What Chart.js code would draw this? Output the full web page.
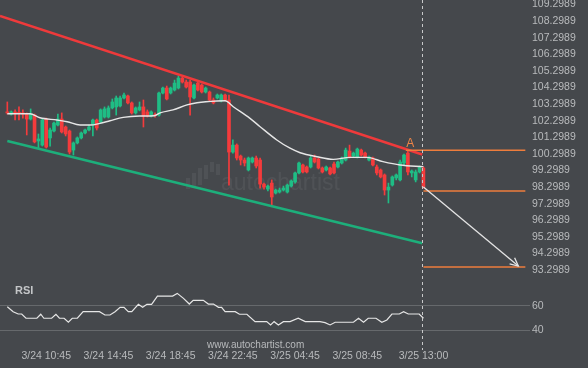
<!DOCTYPE html>
<html><head><meta charset="utf-8">
<script src="https://cdn.jsdelivr.net/npm/chart.js@4.4.1/dist/chart.umd.min.js"></script>
<style>html,body{margin:0;padding:0;background:#45484c;}canvas{display:block;}</style>
</head><body><canvas id="c" width="588" height="368"></canvas>
<script>
const timeLabels = ['3/24 10:45','3/24 14:45','3/24 18:45','3/24 22:45','3/25 04:45','3/25 08:45','3/25 13:00'];
const timeTickIdx = [10,26,42,58,74,90,107];
const priceTicks = [109.2989,108.2989,107.2989,106.2989,105.2989,104.2989,103.2989,102.2989,101.2989,100.2989,99.2989,98.2989,97.2989,96.2989,95.2989,94.2989,93.2989];
const rsiTicks = [60,40];

const openV = [102.83,102.70,102.83,102.77,102.77,102.70,102.40,102.64,101.08,100.83,
102.40,101.26,101.68,102.04,102.40,101.92,101.68,100.53,100.96,101.26,
101.56,101.74,102.04,102.34,102.22,102.52,102.52,103.07,103.13,103.19,
103.67,103.79,103.37,102.77,102.95,103.13,102.83,102.58,102.64,102.64,
103.97,104.27,103.97,104.15,104.27,104.87,104.63,104.63,103.67,104.57,
104.45,104.03,104.03,103.55,103.67,103.49,103.85,103.55,100.41,100.83,
100.17,99.93,99.33,99.81,100.05,99.93,98.48,98.18,98.54,97.94,
98.00,98.12,98.00,98.36,98.61,99.15,99.63,99.51,99.51,100.05,
99.99,99.45,99.33,99.45,99.69,99.51,99.75,99.93,100.47,100.17,
100.11,100.53,100.35,99.93,100.05,99.51,99.33,99.03,98.12,98.42,
98.85,98.73,99.75,100.35,99.15,98.73,99.21,99.45];
const closeV = [102.77,102.83,102.77,102.74,102.70,102.40,102.70,101.02,101.20,102.34,
100.71,101.74,102.16,102.40,101.62,101.50,100.41,100.96,101.26,101.56,
101.74,101.92,102.34,101.86,102.95,103.01,103.07,103.43,103.67,103.67,
103.85,103.37,102.77,103.07,103.13,102.58,102.58,102.83,102.61,103.97,
104.27,103.61,104.27,104.57,104.87,104.63,104.33,103.73,104.45,104.15,
104.03,104.27,103.55,103.37,103.85,103.85,103.55,100.41,100.83,100.05,
99.93,99.75,100.05,100.05,99.57,98.48,98.30,98.36,97.70,98.12,
98.12,98.24,98.42,98.67,99.15,99.75,99.21,99.21,100.05,99.81,
99.45,99.21,99.51,99.09,99.15,99.81,100.05,100.53,100.11,100.35,
100.59,100.23,100.11,100.11,99.63,99.15,98.91,98.12,98.30,98.91,
99.03,99.81,100.23,99.21,99.27,99.21,99.51,98.30];
const highV = [103.43,102.89,102.95,103.13,102.95,102.77,103.01,102.70,101.50,102.40,
102.46,101.86,102.22,102.70,102.77,101.98,101.74,101.02,101.32,101.62,
101.80,102.04,102.40,102.40,103.01,103.13,103.19,103.61,103.79,103.79,
103.97,103.85,103.43,103.13,103.43,103.55,102.95,102.89,102.77,104.03,
104.33,104.39,104.33,104.75,105.00,104.93,104.75,104.75,104.51,104.63,
104.51,104.33,104.09,103.67,103.91,103.91,103.91,103.85,101.14,100.90,
100.23,100.05,100.11,100.11,100.17,100.05,98.54,98.42,98.73,98.18,
98.24,98.36,98.48,98.73,99.21,99.81,99.69,99.57,100.17,100.23,
100.05,99.51,99.57,99.51,99.81,99.87,100.11,100.65,100.83,100.41,
100.65,100.59,100.41,100.17,100.11,99.63,99.39,99.09,98.54,98.97,
99.09,99.93,100.29,100.47,99.33,99.33,99.57,99.51];
const lowV = [102.70,102.64,102.34,102.34,102.46,101.44,102.34,100.96,100.65,100.77,
100.65,100.77,101.62,101.98,101.56,101.38,100.29,100.23,100.90,101.20,
101.50,101.68,101.38,101.74,102.16,102.46,102.46,103.01,102.64,103.13,
103.61,103.31,102.70,102.70,102.89,101.92,102.52,102.52,102.52,102.58,
103.91,103.55,103.91,104.09,104.21,104.57,104.27,102.64,103.61,104.09,
103.97,103.97,103.49,103.31,103.61,103.43,103.49,98.42,100.35,99.93,
99.63,99.57,99.27,99.75,99.45,98.24,98.18,98.06,97.22,97.88,
97.94,98.06,97.94,98.30,98.54,99.09,99.15,99.15,99.45,99.75,
99.39,99.15,99.27,99.03,99.09,99.45,99.69,99.87,100.05,100.11,
100.05,100.17,100.05,99.87,99.57,99.03,98.85,97.82,97.34,98.36,
98.73,98.67,99.63,99.03,98.91,98.61,99.15,98.24];

const maX = [0,5.8,8.4,12.8,15.4,18.7,21.3,23.8,26.4,29.8,34.1,37.8,39.3,42.6,46.2,48.8,53.9,56.0,58.1,62.4,65.0,69.3,72.7,75.3,79.6,83.8,88.1,92.4,96.6,101.0,107];
const maY = [102.72,102.72,102.48,102.34,102.24,102.04,102.04,102.14,102.30,102.50,102.58,102.60,102.77,102.95,103.25,103.38,103.49,103.50,103.14,102.44,101.94,101.14,100.64,100.37,100.13,99.97,100.09,100.09,99.83,99.63,99.53];

const rsiX = [0,1.5,2.8,3.7,4.8,7.6,8.6,9.4,11.4,12.5,13.4,14.6,15.7,16.7,18.0,19.5,23.7,25.1,26.4,27.7,29.0,30.0,31.1,32.0,33.7,34.8,35.9,37.1,38.6,42.5,43.7,45.3,46.8,47.8,50.4,51.7,53.0,54.3,55.1,56.0,58.6,59.7,61.6,63.7,66.7,67.7,68.6,69.7,71.0,72.7,74.8,76.6,80.4,81.7,83.0,84.3,89.0,90.3,91.6,92.8,94.8,96.3,97.6,98.9,100.8,101.9,103.1,105.9,107];
const rsiY = [59.4,55.3,53.4,53.4,49.9,49.9,53.2,49.9,49.9,53.2,49.9,49.9,46.6,49.9,49.9,55.3,55.3,52.6,52.6,55.3,58.9,58.9,55.3,55.3,61.4,58.9,61.4,61.4,68.2,68.2,70.4,66.3,61.6,64.7,64.7,61.6,61.6,58.9,58.9,55.3,55.3,53.2,53.2,47.1,47.1,44.4,47.1,44.4,47.1,47.1,49.9,47.1,47.1,46.3,44.4,46.6,46.6,49.9,46.6,49.9,49.9,46.6,48.5,53.4,53.4,55.3,53.4,53.4,49.9];

const channelX = [-1.88, 106.7];
const redChannelY = [108.62, 100.26];
const greenChannelX = [0, 106.7];
const greenChannelY = [101.08, 94.91];

const levelA = 100.52, levelB = 98.06, levelC = 93.48;
const levelAStart = 102.5, levelStart = 107, levelEnd = 133.2;
const arrowX = [107, 131.4];
const arrowY = [98.30, 93.54];
const lastIdx = 107;
const pointAIdx = 103.6;

const FONT = "'Liberation Sans', Arial, sans-serif";
const TXT = '#b8babc';
const RED = '#f43b3c', GREEN = '#1fbd85';

const bodyData = closeV.map((c,i)=>({x:i, y:[openV[i], c]}));
const wickData = highV.map((h,i)=>({x:i, y:[lowV[i], h]}));
const candleColors = closeV.map((c,i)=> c >= openV[i] ? GREEN : RED);
const pts = (xs, ys) => xs.map((x,i)=>({x, y: ys[i]}));

const overlay = {
  id: 'overlay',
  beforeDatasetsDraw(chart) {
    const c = chart.ctx; c.save();
    c.fillStyle = 'rgba(255,255,255,0.06)';
    c.font = '23px ' + FONT;
    c.textBaseline = 'alphabetic';
    c.fillText('autochartist', 221, 190);
    const bars = [[186,178,4,11],[192,173,4,15],[198,168,4,17],[204,165,4,14],[210,162,4,10],[216,164,4,11]];
    bars.forEach(b => c.fillRect(b[0], b[1], b[2], b[3]));
    c.restore();
  },
  afterDatasetsDraw(chart) {
    const c = chart.ctx, xs = chart.scales.x, ys = chart.scales.y;
    c.save();
    const vx = Math.round(xs.getPixelForValue(lastIdx)) - 0.5;
    c.strokeStyle = '#c8c9ca'; c.lineWidth = 1; c.setLineDash([3,3]);
    c.beginPath(); c.moveTo(vx, 0); c.lineTo(vx, 350); c.stroke();
    c.setLineDash([]);
    const x1 = xs.getPixelForValue(arrowX[0]), y1 = ys.getPixelForValue(arrowY[0]);
    const x2 = xs.getPixelForValue(arrowX[1]), y2 = ys.getPixelForValue(arrowY[1]);
    const ang = Math.atan2(y2 - y1, x2 - x1), L = 9;
    c.strokeStyle = '#e4e4e4'; c.lineWidth = 1.3;
    c.beginPath();
    c.moveTo(x2 - L*Math.cos(ang - 0.45), y2 - L*Math.sin(ang - 0.45));
    c.lineTo(x2, y2);
    c.lineTo(x2 - L*Math.cos(ang + 0.45), y2 - L*Math.sin(ang + 0.45));
    c.stroke();
    c.fillStyle = '#ee8447'; c.font = '12px ' + FONT; c.textAlign = 'center'; c.textBaseline = 'middle';
    c.fillText('A', xs.getPixelForValue(pointAIdx), ys.getPixelForValue(levelA) - 7);
    c.restore();
  },
  afterDraw(chart) {
    const c = chart.ctx; c.save();
    c.fillStyle = '#c4c6c8'; c.font = 'bold 11px ' + FONT; c.textBaseline = 'middle'; c.textAlign = 'left';
    c.fillText('RSI', 15, 291);
    c.fillStyle = '#b8babc'; c.font = '10px ' + FONT;
    c.fillText('www.autochartist.com', 207, 345);
    c.restore();
  }
};

const lineDs = (data, color, width, extra) => Object.assign({
  type: 'line', data, borderColor: color, borderWidth: width, pointRadius: 0,
  fill: false, xAxisID: 'x', yAxisID: 'y', tension: 0
}, extra || {});

new Chart(document.getElementById('c'), {
  type: 'bar',
  data: {
    datasets: [
      lineDs(pts(arrowX, arrowY), '#e4e4e4', 1.3),
      lineDs(pts([levelAStart, levelEnd], [levelA, levelA]), '#ee7d3c', 1.5),
      lineDs(pts([levelStart, levelEnd], [levelB, levelB]), '#ee7d3c', 1.5),
      lineDs(pts([levelStart, levelEnd], [levelC, levelC]), '#ee7d3c', 1.5),
      lineDs(pts(channelX, redChannelY), '#ee3a3b', 2.5),
      lineDs(pts(greenChannelX, greenChannelY), '#1daf7b', 2.5),
      lineDs(pts(maX, maY), '#e6e6e6', 1.4, {cubicInterpolationMode: 'monotone'}),
      lineDs(pts(rsiX, rsiY), '#e6e6e6', 1.2, {yAxisID: 'rsi'}),
      { type: 'bar', data: bodyData, backgroundColor: candleColors, borderWidth: 0,
        barThickness: 3, grouped: false, minBarLength: 1, xAxisID: 'x', yAxisID: 'y' },
      { type: 'bar', data: wickData, backgroundColor: candleColors, borderWidth: 0,
        barThickness: 1, grouped: false, xAxisID: 'x', yAxisID: 'y' }
    ]
  },
  options: {
    responsive: false, animation: false, devicePixelRatio: 1,
    layout: { padding: 0 },
    plugins: { legend: { display: false }, tooltip: { enabled: false } },
    scales: {
      x: {
        type: 'linear', min: -1.88, max: 134.4, offset: false,
        grid: { display: false, drawTicks: false }, border: { display: false },
        ticks: { color: TXT, font: { family: FONT, size: 10.5 }, padding: 10, autoSkip: false, maxRotation: 0,
          callback: v => { const k = timeTickIdx.indexOf(v); return k >= 0 ? timeLabels[k] : ''; } },
        afterBuildTicks: ax => { ax.ticks = timeTickIdx.map(v => ({ value: v })); },
        afterFit: ax => { ax.height = 28; ax.paddingLeft = 0; ax.paddingRight = 0; }
      },
      y: {
        type: 'linear', position: 'right', stack: 'panes', stackWeight: 282,
        min: 92.577, max: 109.576,
        grid: { display: false, drawTicks: false }, border: { display: false },
        ticks: { color: TXT, font: { family: FONT, size: 10.5 }, padding: 2, autoSkip: false,
          callback: v => v.toFixed(4) },
        afterBuildTicks: ax => { ax.ticks = priceTicks.map(v => ({ value: v })); },
        afterFit: ax => { ax.width = 58; ax.paddingTop = 0; ax.paddingBottom = 0; }
      },
      rsi: {
        type: 'linear', position: 'right', stack: 'panes', stackWeight: 58,
        min: 32, max: 79.75,
        grid: { color: '#66696c', drawTicks: false, lineWidth: 1 }, border: { display: false },
        ticks: { color: TXT, font: { family: FONT, size: 10.5 }, padding: 2, autoSkip: false, callback: v => String(v) },
        afterBuildTicks: ax => { ax.ticks = rsiTicks.map(v => ({ value: v })); },
        afterFit: ax => { ax.width = 58; ax.paddingTop = 0; ax.paddingBottom = 0; }
      }
    }
  },
  plugins: [overlay]
});
</script>
</body></html>
